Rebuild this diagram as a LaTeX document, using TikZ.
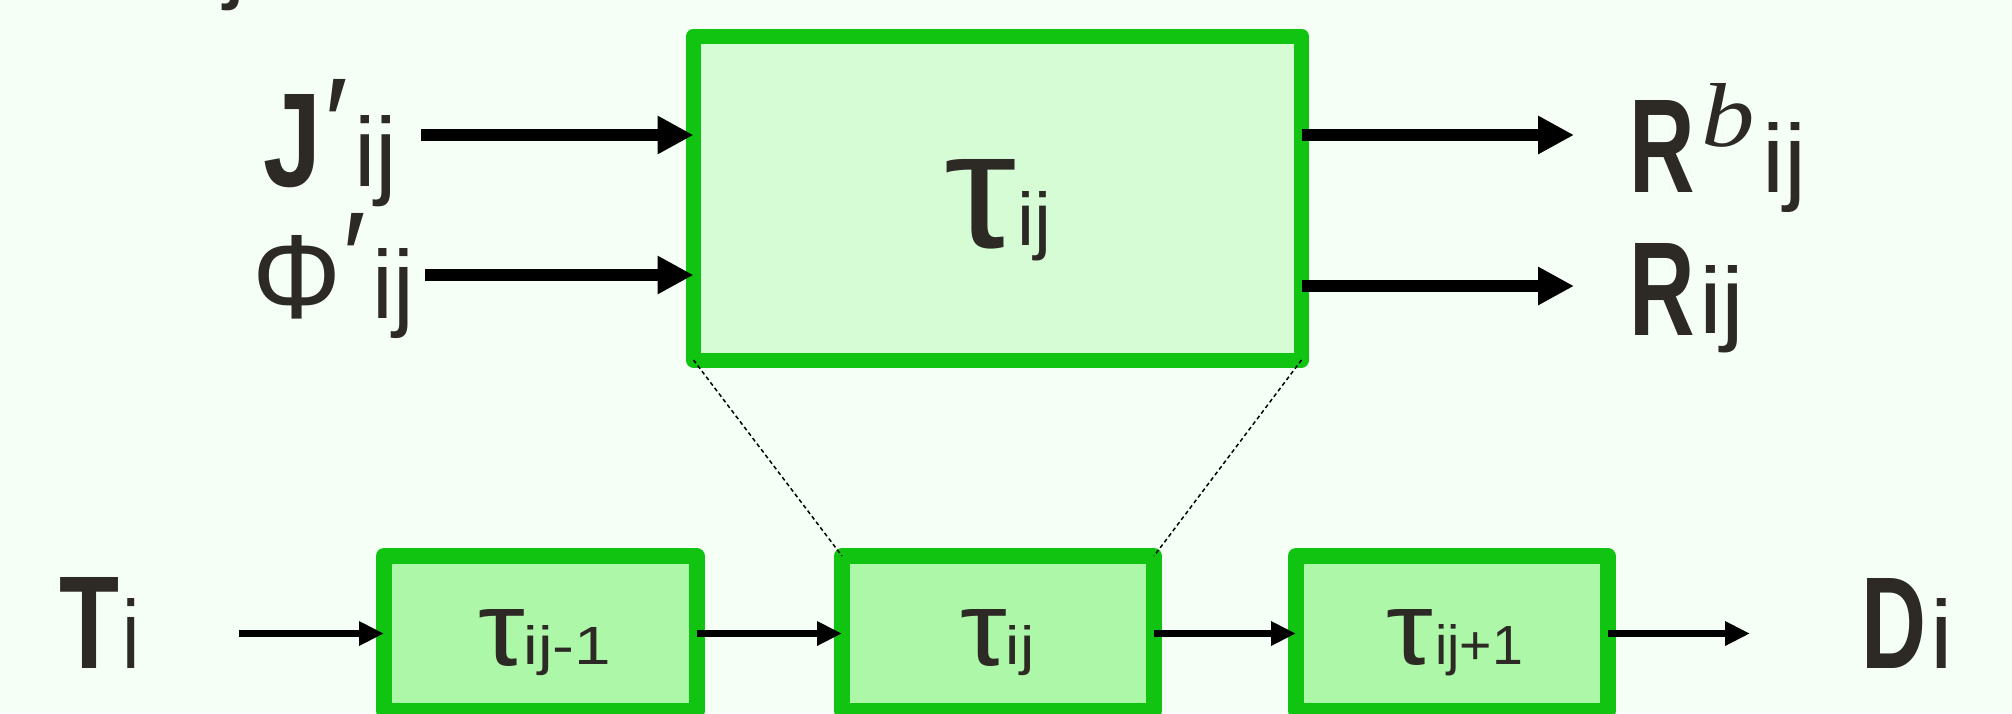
\documentclass[tikz,border=0pt]{standalone}
\usepackage{fontspec}
\setmainfont{Liberation Sans}
\newfontfamily\serf{Liberation Serif}
\usepackage{graphicx}
\usetikzlibrary{arrows.meta}
\definecolor{bg}{RGB}{245,255,245}
\definecolor{gstroke}{RGB}{18,196,18}
\definecolor{bigfill}{RGB}{214,252,214}
\definecolor{smallfill}{RGB}{173,247,168}
\definecolor{inkc}{RGB}{45,42,38}
\newlength\px \setlength\px{0.5pt}
\newcommand\glyphnode[6]{\node[txt] (#1) at (#2,#3) {\resizebox{#4\px}{#5\px}{#6}};}
\begin{document}
\begin{tikzpicture}[x=0.5pt,y=-0.5pt,
  txt/.style={anchor=base west, inner sep=0pt, outer sep=0pt, text=inkc},
  primetxt/.style={txt, font=\fontsize{64}{64}\selectfont},
  bigbox/.style={draw=gstroke, fill=bigfill, line width=7.5pt, line join=round,
     inner sep=0pt, outer sep=0pt, minimum width=304pt, minimum height=162pt},
  smallbox/.style={draw=gstroke, fill=smallfill, line width=8pt, line join=round,
     inner sep=0pt, outer sep=0pt, minimum height=77.5pt},
  bigarrow/.style={line width=6pt, -{Triangle[length=18pt,width=18pt]}},
  smallarrow/.style={line width=3.75pt, -{Triangle[length=12.5pt,width=11.5pt]}},
  zoomlink/.style={line width=0.75pt, dash pattern=on 2pt off 1.5pt}]
\useasboundingbox (0,0) rectangle (2012,713);
\fill[bg] (0,0) rectangle (2012,713);
% boxes
\node[bigbox] (big) at (997.5,198) {};
\node[smallbox, minimum width=156.25pt] (b1) at (540.25,633.5) {};
\node[smallbox, minimum width=156pt] (b2) at (998,633.5) {};
\node[smallbox, minimum width=155.75pt] (b3) at (1451.75,633.5) {};
% labels
\glyphnode{jtop}{224}{-10}{21.5}{71}{j}
\glyphnode{J}{263}{186}{58}{92}{\bfseries J}
\node[primetxt] (Jp) at (324,167) {′};
\glyphnode{Jij}{354.5}{186}{43}{71}{ij}
\glyphnode{Phi}{252.5}{318}{89}{83}{Φ}
\node[primetxt] (Phip) at (342,301) {′};
\glyphnode{Phiij}{372.8}{318}{41.5}{70}{ij}
\glyphnode{tau}{944}{247}{72}{88}{τ}
\glyphnode{tauij}{1017}{245}{34}{54}{ij}
\glyphnode{Rb}{1629.5}{192}{65.5}{92}{\bfseries R}
\glyphnode{bsup}{1701}{146}{53.5}{63}{\serf\itshape b}
\glyphnode{Rbij}{1762.4}{192}{44}{70}{ij}
\glyphnode{R}{1629.5}{335}{65.5}{92}{\bfseries R}
\glyphnode{Rij}{1699}{333}{45.7}{68}{ij}
\glyphnode{T}{59}{668}{60}{91}{\bfseries T}
\glyphnode{Ti}{122.7}{668}{17.5}{70}{i}
\glyphnode{D}{1861.5}{668}{65}{90}{\bfseries D}
\glyphnode{Di}{1930.3}{668}{22.5}{70}{i}
\glyphnode{t1}{478.7}{665}{46.7}{56}{τ}
\glyphnode{t1s}{523.6}{664}{87.6}{39}{ij-1}
\glyphnode{t2}{960.7}{665}{46.7}{56}{τ}
\glyphnode{t2s}{1005.7}{664}{28.6}{39}{ij}
\glyphnode{t3}{1386.7}{664}{46.7}{55}{τ}
\glyphnode{t3s}{1435.3}{664}{87.9}{40}{ij+1}
% arrow tails / heads
\coordinate (jt) at (421,135);
\coordinate (pt) at (425,275);
\coordinate (rbh) at (1574,135);
\coordinate (rh) at (1574,286);
\coordinate (tt) at (239,633.5);
\coordinate (dh) at (1750,633.5);
\draw[bigarrow] (jt) -- (jt -| big.west);
\draw[bigarrow] (pt) -- (pt -| big.west);
\draw[bigarrow] (rbh -| big.east) -- (rbh);
\draw[bigarrow] (rh -| big.east) -- (rh);
\draw[smallarrow] (tt) -- (b1.west);
\draw[smallarrow] (b1.east) -- (b2.west);
\draw[smallarrow] (b2.east) -- (b3.west);
\draw[smallarrow] (b3.east) -- (dh);
% zoom links
\draw[zoomlink] (big.south west) -- (b2.north west);
\draw[zoomlink] (big.south east) -- (b2.north east);
\end{tikzpicture}
\end{document}
